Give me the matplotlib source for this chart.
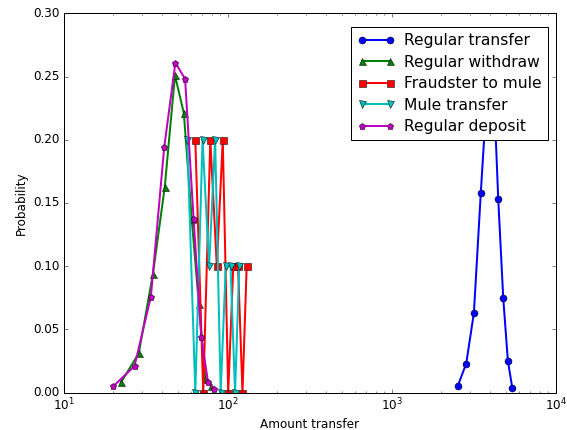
import numpy as np
import matplotlib
matplotlib.use('Agg')
import matplotlib.pyplot as plt

plt.style.use('classic')

# Histogram bin centres (amount) and probabilities
transfer_x = [2527, 2850, 3174, 3497, 3820, 4144, 4467, 4790, 5114, 5437]
transfer_p = [0.005, 0.023, 0.063, 0.158, 0.239, 0.258, 0.153, 0.075, 0.025, 0.004]

withdraw_x = [22.4, 28.75, 35.1, 41.45, 47.8, 54.15, 60.5, 66.85, 73.2, 79.55]
withdraw_p = [0.008, 0.031, 0.094, 0.163, 0.251, 0.221, 0.137, 0.070, 0.011, 0.005]

fraud_x = [63.6, 71.1, 78.5, 86.0, 93.5, 100.9, 108.4, 115.9, 123.3, 130.8]
fraud_p = [0.2, 0.0, 0.2, 0.1, 0.2, 0.0, 0.1, 0.1, 0.0, 0.1]

mule_x = [56.8, 63.6, 70.4, 77.2, 84.0, 90.8, 97.5, 104.3, 111.1, 117.9]
mule_p = [0.2, 0.0, 0.2, 0.1, 0.2, 0.0, 0.1, 0.1, 0.0, 0.1]

deposit_x = [20.1, 27.1, 34.1, 41.1, 48.1, 55.1, 62.1, 69.1, 76.1, 83.1]
deposit_p = [0.005, 0.021, 0.076, 0.194, 0.261, 0.248, 0.137, 0.044, 0.008, 0.003]

fig = plt.figure(figsize=(567 / 72, 430 / 72), dpi=72, facecolor='white')
ax = fig.add_axes([0.112, 0.087, 0.868, 0.882])

kw = dict(linewidth=2, markersize=7)
ax.plot(transfer_x, transfer_p, 'b-o', label='Regular transfer', **kw)
ax.plot(withdraw_x, withdraw_p, 'g-^', label='Regular withdraw', **kw)
ax.plot(fraud_x, fraud_p, 'r-s', label='Fraudster to mule', **kw)
ax.plot(mule_x, mule_p, 'c-v', label='Mule transfer', **kw)
ax.plot(deposit_x, deposit_p, 'm-p', label='Regular deposit', **kw)

ax.set_xscale('log')
ax.set_xlim(10, 1e4)
ax.set_ylim(0, 0.30)
ax.set_yticks(np.arange(0, 0.301, 0.05))
ax.set_yticklabels(['%.2f' % v for v in np.arange(0, 0.301, 0.05)])
ax.tick_params(labelsize=12)
ax.set_xlabel('Amount transfer', fontsize=12)
ax.set_ylabel('Probability', fontsize=12)
ax.legend(loc='upper right', bbox_to_anchor=(0.984, 0.964), borderaxespad=0,
          fontsize=15.5, numpoints=2, labelspacing=0.42, handlelength=2.4,
          handletextpad=0.6)

fig.savefig('out.png', dpi=72, facecolor='white')
